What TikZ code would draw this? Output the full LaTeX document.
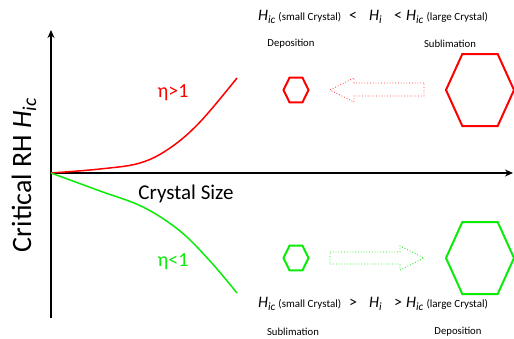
\documentclass[tikz,border=0pt]{standalone}
\usepackage{fontspec}
\setmainfont{Carlito}
\usepackage{xcolor}
\usepackage{tikz}
\usetikzlibrary{arrows.meta,positioning,calc}

\definecolor{lime}{RGB}{10,235,10}
\newcommand{\Hsub}[1]{\textit{H}\textsubscript{\textit{#1}}}
\newcommand{\crys}[1]{{\fontsize{11}{13}\selectfont(#1 Crystal)}}

\tikzset{
    axis/.style={line width=1.6pt, -{Stealth[length=8pt,width=7pt]}},
    curve/.style={line width=1.5pt},
    hexline/.style={line width=2pt},
    flow/.style={dotted, line width=0.8pt},
    rel/.style={font=\fontsize{16}{18}\selectfont},
    note/.style={font=\fontsize{10.7}{12}\selectfont},
    pics/hexa/.style 2 args={code={
        \draw[hexline] (-#1,0) -- (-0.52*#1,#2) -- (0.52*#1,#2) -- (#1,0)
            -- (0.52*#1,-#2) -- (-0.52*#1,-#2) -- cycle;}}
}

\begin{document}
\begin{tikzpicture}[x=1pt, y=-1pt]
\useasboundingbox (0,0) rectangle (514,338);

% axes
\coordinate (O) at (51,173);
\coordinate (ytop) at (51,30);
\coordinate (ybot) at (51,318);
\coordinate (xend) at (513,173);
\draw[axis] (ybot) -- (ytop);
\draw[axis] (O) -- (xend);

\node[rotate=90, font=\fontsize{28}{32}\selectfont] (ylab) at (24,175) {Critical RH \Hsub{ic}};
\node[font=\fontsize{21}{24}\selectfont] (xlab) at (186,194) {Crystal Size};

% the two curves
\draw[curve, red] plot[smooth, tension=0.6] coordinates {(51,173) (100,169) (140,163) (170,148) (200,122) (237,78)};
\draw[curve, lime] plot[smooth, tension=0.6] coordinates {(51,173) (100,191) (143,207) (180,231) (210,261) (237,293)};
\node[red, font=\fontsize{20}{24}\selectfont] (eta1) at (173,93) {η>1};
\node[lime, font=\fontsize{20}{24}\selectfont] (eta2) at (173,262) {η<1};

% top row: growth of small crystals
\node[rel] (relT) at (373,17) {\Hsub{ic}\,\crys{small}\hspace{8pt}<\hspace{12pt}\Hsub{i}\hspace{12pt}<\hspace{4pt}\Hsub{ic}\,\crys{large}};
\node[note] (depT) at (291,44) {Deposition};
\node[note] (subT) at (450,44) {Sublimation};
\coordinate (hsR) at (296,90);
\coordinate (hlR) at (480,90);
\pic[red] at (hsR) {hexa={12.5}{12.3}};
\pic[red] at (hlR) {hexa={34}{36}};
\draw[flow, red!80] (424,83) -- (354,83) -- (354,78) -- (330,90) -- (354,102) -- (354,96) -- (424,96) -- cycle;

% bottom row
\node[rel] (relB) at (373,304) {\Hsub{ic}\,\crys{small}\hspace{8pt}>\hspace{12pt}\Hsub{i}\hspace{12pt}>\hspace{4pt}\Hsub{ic}\,\crys{large}};
\node[note] (subB) at (293,332) {Sublimation};
\node[note] (depB) at (458,332) {Deposition};
\coordinate (hsG) at (296,258);
\coordinate (hlG) at (480,258);
\pic[lime] at (hsG) {hexa={12.5}{12.3}};
\pic[lime] at (hlG) {hexa={34}{36}};
\draw[flow, lime] (330,252) -- (400,252) -- (400,246) -- (424,258) -- (400,270) -- (400,264) -- (330,264) -- cycle;
\end{tikzpicture}
\end{document}
